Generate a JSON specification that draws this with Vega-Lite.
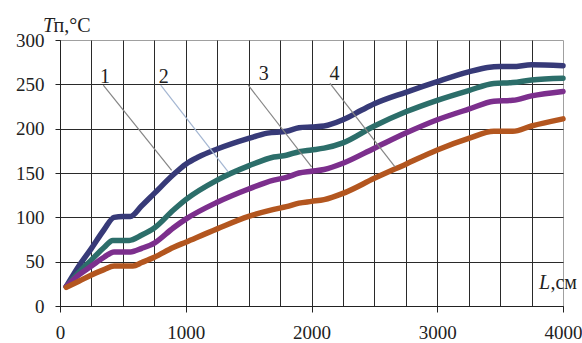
{
  "$schema": "https://vega.github.io/schema/vega-lite/v6.json",
  "autosize": {"type": "none"},
  "padding": {"left": 60, "top": 40, "right": 19, "bottom": 37},
  "width": 503,
  "height": 266,
  "background": "white",
  "config": {
    "view": {"stroke": "#a0a0a0", "strokeWidth": 1},
    "font": "'Liberation Serif', 'Times New Roman', serif",
    "axis": {"labelFont": "'Liberation Serif', 'Times New Roman', serif", "labelFontSize": 19, "labelColor": "#222222"},
    "text": {"font": "'Liberation Serif', 'Times New Roman', serif"}
  },
  "datasets": {
    "curves": [
      {"s": "1", "L": 50, "T": 22}, {"s": "1", "L": 150, "T": 45}, {"s": "1", "L": 250, "T": 65}, {"s": "1", "L": 350, "T": 86}, {"s": "1", "L": 430, "T": 100}, {"s": "1", "L": 500, "T": 101}, {"s": "1", "L": 560, "T": 101}, {"s": "1", "L": 650, "T": 113}, {"s": "1", "L": 750, "T": 127}, {"s": "1", "L": 900, "T": 148}, {"s": "1", "L": 1000, "T": 160}, {"s": "1", "L": 1100, "T": 168}, {"s": "1", "L": 1250, "T": 177}, {"s": "1", "L": 1500, "T": 189}, {"s": "1", "L": 1650, "T": 195}, {"s": "1", "L": 1800, "T": 197}, {"s": "1", "L": 1900, "T": 201}, {"s": "1", "L": 2000, "T": 202}, {"s": "1", "L": 2100, "T": 203}, {"s": "1", "L": 2250, "T": 210}, {"s": "1", "L": 2400, "T": 221}, {"s": "1", "L": 2500, "T": 228}, {"s": "1", "L": 2750, "T": 241}, {"s": "1", "L": 3000, "T": 253}, {"s": "1", "L": 3250, "T": 264}, {"s": "1", "L": 3400, "T": 269}, {"s": "1", "L": 3500, "T": 270}, {"s": "1", "L": 3600, "T": 270}, {"s": "1", "L": 3750, "T": 272}, {"s": "1", "L": 4000, "T": 271},
      {"s": "2", "L": 50, "T": 22}, {"s": "2", "L": 150, "T": 38}, {"s": "2", "L": 250, "T": 52}, {"s": "2", "L": 350, "T": 66}, {"s": "2", "L": 420, "T": 74}, {"s": "2", "L": 550, "T": 74}, {"s": "2", "L": 650, "T": 80}, {"s": "2", "L": 750, "T": 88}, {"s": "2", "L": 900, "T": 108}, {"s": "2", "L": 1000, "T": 120}, {"s": "2", "L": 1250, "T": 142}, {"s": "2", "L": 1500, "T": 158}, {"s": "2", "L": 1700, "T": 168}, {"s": "2", "L": 1800, "T": 170}, {"s": "2", "L": 1900, "T": 174}, {"s": "2", "L": 2000, "T": 176}, {"s": "2", "L": 2100, "T": 178}, {"s": "2", "L": 2250, "T": 184}, {"s": "2", "L": 2500, "T": 203}, {"s": "2", "L": 2750, "T": 219}, {"s": "2", "L": 3000, "T": 232}, {"s": "2", "L": 3250, "T": 243}, {"s": "2", "L": 3450, "T": 251}, {"s": "2", "L": 3600, "T": 252}, {"s": "2", "L": 3750, "T": 255}, {"s": "2", "L": 4000, "T": 257},
      {"s": "3", "L": 50, "T": 22}, {"s": "3", "L": 150, "T": 35}, {"s": "3", "L": 250, "T": 45}, {"s": "3", "L": 350, "T": 55}, {"s": "3", "L": 430, "T": 61}, {"s": "3", "L": 560, "T": 61}, {"s": "3", "L": 650, "T": 65}, {"s": "3", "L": 750, "T": 71}, {"s": "3", "L": 900, "T": 88}, {"s": "3", "L": 1000, "T": 98}, {"s": "3", "L": 1250, "T": 117}, {"s": "3", "L": 1500, "T": 132}, {"s": "3", "L": 1700, "T": 142}, {"s": "3", "L": 1800, "T": 145}, {"s": "3", "L": 1900, "T": 150}, {"s": "3", "L": 2000, "T": 152}, {"s": "3", "L": 2100, "T": 154}, {"s": "3", "L": 2250, "T": 161}, {"s": "3", "L": 2500, "T": 178}, {"s": "3", "L": 2750, "T": 195}, {"s": "3", "L": 3000, "T": 210}, {"s": "3", "L": 3250, "T": 222}, {"s": "3", "L": 3450, "T": 231}, {"s": "3", "L": 3600, "T": 232}, {"s": "3", "L": 3750, "T": 237}, {"s": "3", "L": 4000, "T": 242},
      {"s": "4", "L": 50, "T": 21}, {"s": "4", "L": 150, "T": 28}, {"s": "4", "L": 250, "T": 35}, {"s": "4", "L": 350, "T": 41}, {"s": "4", "L": 430, "T": 45}, {"s": "4", "L": 580, "T": 45}, {"s": "4", "L": 650, "T": 49}, {"s": "4", "L": 750, "T": 55}, {"s": "4", "L": 900, "T": 66}, {"s": "4", "L": 1000, "T": 72}, {"s": "4", "L": 1250, "T": 87}, {"s": "4", "L": 1500, "T": 101}, {"s": "4", "L": 1700, "T": 109}, {"s": "4", "L": 1800, "T": 112}, {"s": "4", "L": 1900, "T": 116}, {"s": "4", "L": 2000, "T": 118}, {"s": "4", "L": 2100, "T": 120}, {"s": "4", "L": 2250, "T": 127}, {"s": "4", "L": 2500, "T": 144}, {"s": "4", "L": 2750, "T": 160}, {"s": "4", "L": 3000, "T": 176}, {"s": "4", "L": 3250, "T": 189}, {"s": "4", "L": 3450, "T": 197}, {"s": "4", "L": 3600, "T": 197}, {"s": "4", "L": 3750, "T": 203}, {"s": "4", "L": 4000, "T": 211}
    ],
    "notes": [
      {"n": "1", "L": 344, "T": 249, "L2": 888, "T2": 153},
      {"n": "2", "L": 801, "T": 249, "L2": 1339, "T2": 151},
      {"n": "3", "L": 1497, "T": 249, "L2": 2001, "T2": 157},
      {"n": "4", "L": 2147, "T": 251, "L2": 2664, "T2": 157}
    ],
    "labels": [
      {"t": "1", "L": 358, "T": 251},
      {"t": "2", "L": 826, "T": 251},
      {"t": "3", "L": 1621, "T": 254.5},
      {"t": "4", "L": 2182, "T": 254.5}
    ],
    "italic": [
      {"t": "T", "L": -135, "T": 309},
      {"t": "L", "L": 3809, "T": 19.6}
    ],
    "roman": [
      {"t": "п,°C", "L": -52, "T": 309},
      {"t": ",см", "L": 3900, "T": 19.6}
    ]
  },
  "encoding": {
    "x": {
      "field": "L", "type": "quantitative",
      "scale": {"domain": [0, 4000], "nice": false, "zero": false},
      "axis": {
        "values": [0, 250, 500, 750, 1000, 1250, 1500, 1750, 2000, 2250, 2500, 2750, 3000, 3250, 3500, 3750, 4000],
        "labelExpr": "datum.value % 1000 === 0 ? datum.label : ''",
        "format": "d",
        "labelOverlap": false,
        "labelFlush": false,
        "title": null,
        "grid": true,
        "gridColor": "#2a2a2a",
        "gridWidth": 1,
        "gridOpacity": {"condition": {"test": "datum.value === 4000", "value": 0}, "value": 1},
        "tickOpacity": {"condition": {"test": "datum.value % 1000 === 0", "value": 1}, "value": 0},
        "tickSize": 6,
        "tickColor": "#222222",
        "domainColor": "#222222",
        "labelFont": "'Liberation Serif', 'Times New Roman', serif",
        "labelFontSize": 19,
        "labelColor": "#222222",
        "labelPadding": 11
      }
    },
    "y": {
      "field": "T", "type": "quantitative",
      "scale": {"domain": [0, 300], "nice": false, "zero": false},
      "axis": {
        "values": [0, 50, 100, 150, 200, 250, 300],
        "title": null,
        "grid": true,
        "gridColor": "#2a2a2a",
        "gridWidth": 1,
        "gridOpacity": {"condition": {"test": "datum.value === 300", "value": 0}, "value": 1},
        "tickSize": 5,
        "tickColor": "#222222",
        "domainColor": "#222222",
        "labelFont": "'Liberation Serif', 'Times New Roman', serif",
        "labelFontSize": 19,
        "labelColor": "#222222",
        "labelPadding": 11
      }
    }
  },
  "layer": [
    {
      "data": {"name": "curves"},
      "mark": {"type": "line", "strokeWidth": 5.5, "interpolate": "monotone", "strokeCap": "round", "strokeJoin": "round"},
      "encoding": {
        "color": {
          "field": "s", "type": "nominal",
          "scale": {"domain": ["1", "2", "3", "4"], "range": ["#373a78", "#2c6e6a", "#7c2f8d", "#b3561f"]},
          "legend": null
        }
      }
    },
    {
      "data": {"name": "notes"},
      "mark": {"type": "rule", "strokeWidth": 1.2},
      "encoding": {
        "x2": {"field": "L2"},
        "y2": {"field": "T2"},
        "stroke": {
          "field": "n", "type": "nominal",
          "scale": {"domain": ["1", "2", "3", "4"], "range": ["#858585", "#a4b6d2", "#858585", "#858585"]},
          "legend": null
        }
      }
    },
    {
      "data": {"name": "labels"},
      "mark": {"type": "text", "font": "'Liberation Serif', 'Times New Roman', serif", "fontSize": 20, "align": "center", "baseline": "alphabetic", "color": "#222222"},
      "encoding": {"text": {"field": "t"}}
    },
    {
      "data": {"name": "italic"},
      "mark": {"type": "text", "font": "'Liberation Serif', 'Times New Roman', serif", "fontSize": 20, "fontStyle": "italic", "align": "left", "baseline": "alphabetic", "color": "#222222"},
      "encoding": {"text": {"field": "t"}}
    },
    {
      "data": {"name": "roman"},
      "mark": {"type": "text", "font": "'Liberation Serif', 'Times New Roman', serif", "fontSize": 20, "align": "left", "baseline": "alphabetic", "color": "#222222"},
      "encoding": {"text": {"field": "t"}}
    }
  ]
}
